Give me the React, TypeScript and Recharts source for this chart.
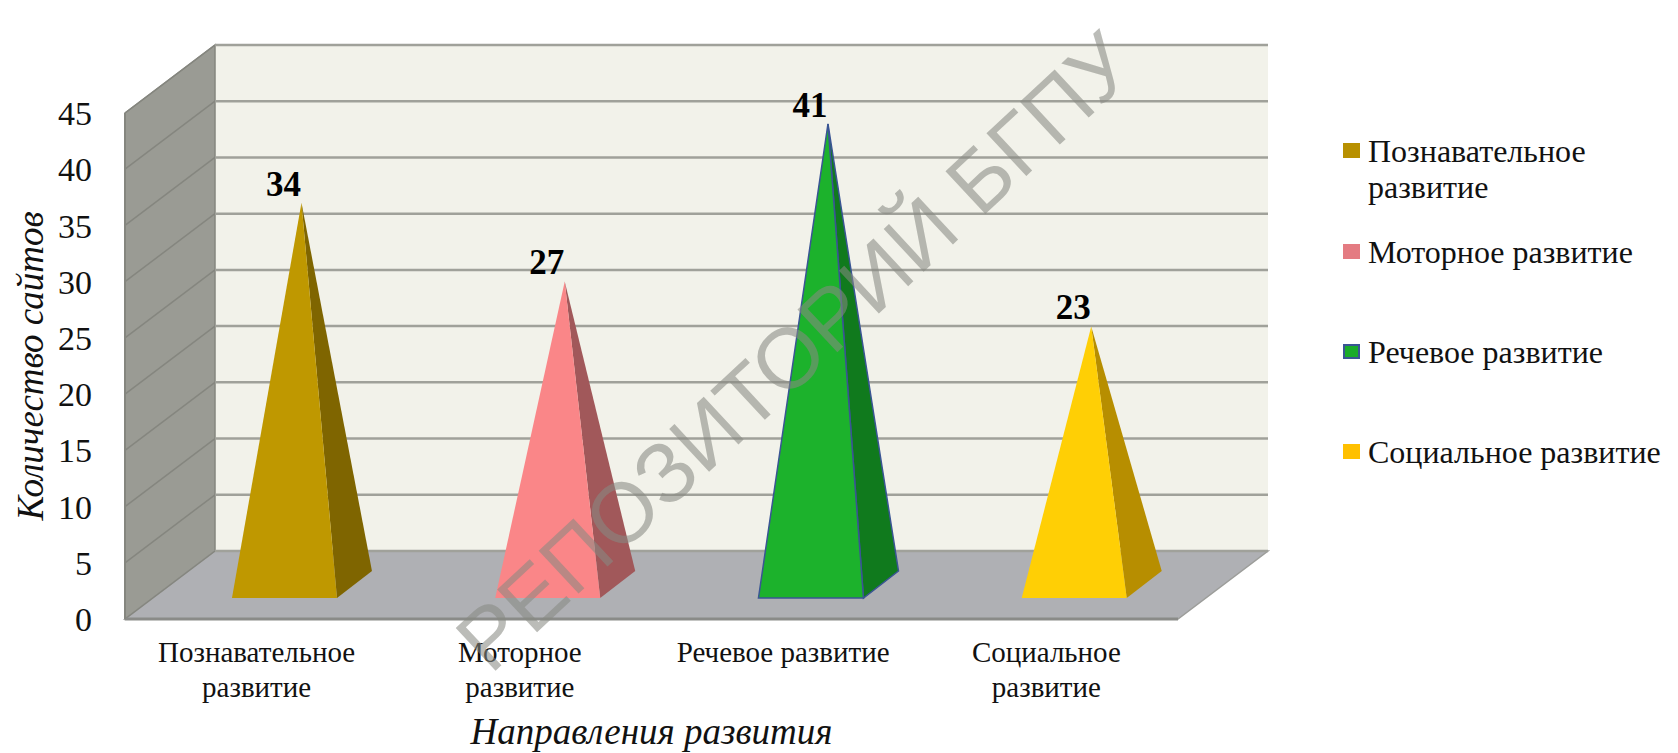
import { Bar, BarChart, CartesianGrid, Cell, LabelList, Legend, XAxis, YAxis } from "recharts";

const categories = ["Познавательное развитие", "Моторное развитие", "Речевое развитие", "Социальное развитие"];
const tickLines = [["Познавательное", "развитие"], ["Моторное", "развитие"], ["Речевое развитие"], ["Социальное", "развитие"]];
const legendLines = [["Познавательное", "развитие"], ["Моторное развитие"], ["Речевое развитие"], ["Социальное развитие"]];
const values = [34, 27, 41, 23];
const yTicks = [0, 5, 10, 15, 20, 25, 30, 35, 40, 45];

const frontColors = ["#BF9800", "#FA8688", "#1CB22C", "#FFCF05"];
const sideColors = ["#7F6500", "#A1585A", "#107A1D", "#B78E00"];
const legendColors = ["#B89000", "#E47B82", "#1AAB2A", "#FFC000"];
const outlines = ["none", "none", "#3A5594", "none"];

const data = categories.map((name, i) => ({ name, value: values[i] }));

const SERIF = "'Liberation Serif', 'Times New Roman', serif";
// depth of the fake 3d box
const DX = 90;
const DY = 68;

// drawn once from a first grid layer so the lines land on top of it
function Walls(props: any) {
  const { x, y, width, height, index } = props;
  if (index !== 0) return <g key={props.key} />;
  const r = x + width;
  const b = y + height;
  return (
    <g key={props.key}>
      <polygon points={`${x + DX},${y - DY} ${r + DX},${y - DY} ${r + DX},${b - DY} ${x + DX},${b - DY}`} fill="#F2F2EA" />
      <polygon points={`${x},${y} ${x + DX},${y - DY} ${x + DX},${b - DY} ${x},${b}`} fill="#9A9B94" stroke="#85867F" strokeWidth={1.5} />
      <polygon points={`${x},${b} ${x + DX},${b - DY} ${r + DX},${b - DY} ${r},${b}`} fill="#AFB0B4" stroke="#9C9D9A" strokeWidth={1.5} />
    </g>
  );
}

function GridLine(props: any) {
  const { x1, x2, y1 } = props;
  return (
    <g key={props.key}>
      <line x1={x1} y1={y1} x2={x1 + DX} y2={y1 - DY} stroke="#85867F" strokeWidth={1.5} />
      <line x1={x1 + DX} y1={y1 - DY} x2={x2 + DX} y2={y1 - DY} stroke="#A0A19A" strokeWidth={2.5} />
    </g>
  );
}

function Pyramid(props: any) {
  const { x, y, width, height, index } = props;
  // base sits halfway into the box depth
  const left = x + 28;
  const right = x + width + 28;
  const base = y + height - 21;
  const apexX = x + width / 2 + 45;
  const apexY = y - 34;
  const line = outlines[index];
  return (
    <g>
      <polygon
        points={`${apexX},${apexY} ${right},${base} ${right + 35},${base - 27}`}
        fill={sideColors[index]}
        stroke={line}
        strokeWidth={1.5}
      />
      <polygon
        points={`${apexX},${apexY} ${left},${base} ${right},${base}`}
        fill={frontColors[index]}
        stroke={line}
        strokeWidth={1.5}
      />
    </g>
  );
}

function ValueLabel(props: any) {
  const { x, y, width, value } = props;
  return (
    <text
      x={x + width / 2 + 27}
      y={y - 41}
      textAnchor="middle"
      fontFamily={SERIF}
      fontWeight="bold"
      fontSize={35}
      fill="#000"
    >
      {value}
    </text>
  );
}

function CategoryTick(props: any) {
  const { x, y, payload } = props;
  const lines = tickLines[payload.index];
  return (
    <text textAnchor="middle" fontFamily={SERIF} fontSize={29} fill="#111">
      {lines.map((t, i) => (
        <tspan key={t} x={x} y={y + 35 + i * 35}>
          {t}
        </tspan>
      ))}
    </text>
  );
}

function CategoryLegend() {
  const gaps = [0, 29, 64, 64];
  return (
    <div style={{ fontFamily: SERIF, fontSize: 32, lineHeight: "36px", color: "#111" }}>
      {legendLines.map((lines, i) => (
        <div key={i} style={{ position: "relative", paddingLeft: 25, marginTop: gaps[i], whiteSpace: "pre" }}>
          <span
            style={{
              position: "absolute",
              left: 0,
              top: 10,
              width: 17,
              height: 15,
              boxSizing: "border-box",
              background: legendColors[i],
              border: outlines[i] === "none" ? "none" : `2px solid ${outlines[i]}`,
            }}
          />
          {lines.map((t) => (
            <div key={t}>{t}</div>
          ))}
        </div>
      ))}
    </div>
  );
}

export default function App() {
  return (
    <div style={{ position: "absolute", left: 0, top: 0, width: 1678, height: 753, background: "#fff", overflow: "hidden" }}>
      <BarChart
        width={1678}
        height={753}
        data={data}
        margin={{ top: 113, right: 500, bottom: 9, left: 0 }}
        barCategoryGap="30%"
      >
        <CartesianGrid vertical={false} horizontal={Walls} />
        <CartesianGrid vertical={false} horizontal={GridLine} />
        <XAxis
          dataKey="name"
          interval={0}
          height={125}
          tickLine={false}
          axisLine={{ stroke: "#8A8B88", strokeWidth: 3 }}
          tick={CategoryTick}
          label={{
            value: "Направления развития",
            position: "insideBottom",
            offset: 0,
            style: { fontFamily: SERIF, fontStyle: "italic", fontSize: 37, fill: "#111" },
          }}
        />
        <YAxis
          width={125}
          domain={[0, 45]}
          ticks={yTicks}
          interval={0}
          tickLine={false}
          tickSize={0}
          tickMargin={33}
          axisLine={{ stroke: "#85867F", strokeWidth: 2 }}
          tick={{ fontFamily: SERIF, fontSize: 34, fill: "#111" }}
          label={{
            value: "Количество сайтов",
            angle: -90,
            position: "insideLeft",
            offset: 30,
            textAnchor: "middle",
            style: { fontFamily: SERIF, fontStyle: "italic", fontSize: 37, fill: "#111", textAnchor: "middle" },
          }}
        />
        <Legend
          layout="horizontal"
          verticalAlign="middle"
          content={CategoryLegend}
          wrapperStyle={{ left: 1343, top: 133, width: 335 }}
        />
        <Bar dataKey="value" shape={Pyramid} isAnimationActive={false}>
          {data.map((d, i) => (
            <Cell key={d.name} fill={frontColors[i]} />
          ))}
          <LabelList dataKey="value" content={ValueLabel} />
        </Bar>
      </BarChart>
      <div
        style={{
          position: "absolute",
          left: 795,
          top: 352,
          transform: "translate(-50%, -50%) rotate(-43deg)",
          fontFamily: "'Liberation Sans', Arial, sans-serif",
          fontSize: 85,
          color: "rgba(136, 137, 131, 0.57)",
          whiteSpace: "nowrap",
          pointerEvents: "none",
        }}
      >
        РЕПОЗИТОРИЙ БГПУ
      </div>
    </div>
  );
}
